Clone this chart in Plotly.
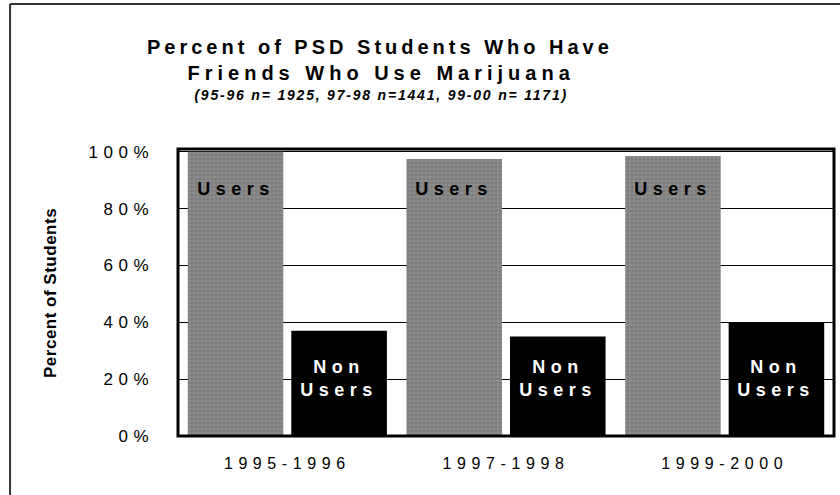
import plotly.graph_objects as go

categories = ["1995-1996", "1997-1998", "1999-2000"]
users = [100, 97.5, 98.5]
non_users = [37, 35, 40]
y_ticks = [0, 20, 40, 60, 80, 100]
y_tick_labels = ["0%", "20%", "40%", "60%", "80%", "100%"]

FONT = "Arial, Liberation Sans, sans-serif"

fig = go.Figure()
fig.add_trace(go.Bar(
    x=categories, y=users, name="Users",
    marker=dict(color="#858585", line=dict(width=0),
                pattern=dict(shape=".", size=4, solidity=0.45,
                             fgcolor="#6a6a6a", bgcolor="#8c8c8c")),
    hoverinfo="skip",
))
fig.add_trace(go.Bar(
    x=categories, y=non_users, name="Non Users",
    marker=dict(color="#000000", line=dict(width=0)),
    hoverinfo="skip",
))

annotations = []
# bar labels
for c in categories:
    annotations.append(dict(x=c, y=87, xref="x", yref="y", xshift=-51.75,
                            text="<b>Users</b>", showarrow=False,
                            font=dict(family=FONT, size=18, color="#000"),
                            xanchor="center", yanchor="middle"))
    annotations.append(dict(x=c, y=20.3, xref="x", yref="y", xshift=51.75,
                            text="<b>Non<br>Users</b>", showarrow=False,
                            font=dict(family=FONT, size=18, color="#fff"),
                            xanchor="center", yanchor="middle"))
# titles
annotations.append(dict(x=0.308, y=1.355, xref="paper", yref="paper",
                        text="<b>Percent of PSD Students Who Have</b>",
                        showarrow=False, xanchor="center", yanchor="middle",
                        font=dict(family=FONT, size=20, color="#000")))
annotations.append(dict(x=0.31, y=1.265, xref="paper", yref="paper",
                        text="<b>Friends Who Use Marijuana</b>",
                        showarrow=False, xanchor="center", yanchor="middle",
                        font=dict(family=FONT, size=20, color="#000")))
annotations.append(dict(x=0.31, y=1.188, xref="paper", yref="paper",
                        text="<b><i>(95-96 n= 1925, 97-98 n=1441, 99-00 n= 1171)</i></b>",
                        showarrow=False, xanchor="center", yanchor="middle",
                        font=dict(family=FONT, size=14, color="#000")))
annotations.append(dict(x=-0.194, y=0.5, xref="paper", yref="paper",
                        text="<b>Percent of Students</b>", textangle=-90,
                        showarrow=False, xanchor="center", yanchor="middle",
                        font=dict(family=FONT, size=17, color="#000")))

shapes = [
    # plot frame
    dict(type="rect", xref="paper", yref="paper", x0=0, x1=1, y0=0, y1=1,
         line=dict(color="#000", width=3), layer="above"),
    # outer chart border (left and top edges visible)
    dict(type="line", xref="paper", yref="paper", x0=-0.256, x1=-0.256,
         y0=-0.3, y1=1.505, line=dict(color="#333", width=2), layer="above"),
    dict(type="line", xref="paper", yref="paper", x0=-0.256, x1=1.2,
         y0=1.505, y1=1.505, line=dict(color="#333", width=2), layer="above"),
]

fig.update_layout(
    width=840, height=495,
    margin=dict(l=178, r=6, t=149, b=59),
    paper_bgcolor="#fff", plot_bgcolor="#fff",
    barmode="group", bargap=0.053, bargroupgap=0.077,
    showlegend=False,
    annotations=annotations, shapes=shapes,
    font=dict(family=FONT, color="#000"),
    xaxis=dict(showgrid=False, zeroline=False, showline=False, ticks="",
               tickfont=dict(family=FONT, size=16, color="#000"),
               ticklabelstandoff=16),
    yaxis=dict(range=[0, 101], tickvals=y_ticks, ticktext=y_tick_labels,
               showgrid=True, gridcolor="#000", gridwidth=1, zeroline=False,
               showline=False, ticks="",
               tickfont=dict(family=FONT, size=17, color="#000"),
               ticklabelstandoff=23),
)

post = """
document.body.style.margin = '0';
document.body.style.overflow = 'hidden';
document.head.insertAdjacentHTML('beforeend', '<style>' +
 '.xtick text{letter-spacing:5.6px;}' +
 '.ytick text{letter-spacing:5.5px;}' +
 '.annotation text{letter-spacing:5.5px;}' +
 '.annotation[data-index="6"] text{letter-spacing:4px;}' +
 '.annotation[data-index="7"] text{letter-spacing:5px;}' +
 '.annotation[data-index="8"] text{letter-spacing:1.8px;}' +
 '.annotation[data-index="9"] text{letter-spacing:0.5px;}' +
 '</style>');
"""

fig.write_html("out.html", post_script=post, config={"displayModeBar": False})
